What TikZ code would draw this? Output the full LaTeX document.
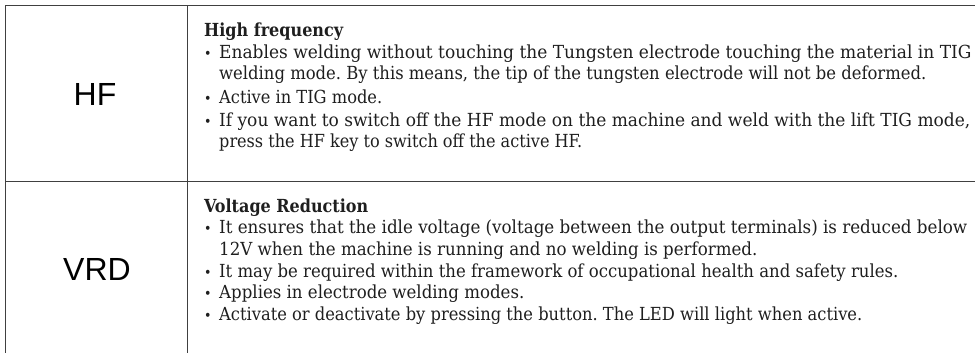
\documentclass[tikz,border=0pt]{standalone}
\usepackage{fontspec}
\setmainfont{DejaVu Serif Condensed}
\newfontfamily\labelfont{Liberation Sans}
\usepackage{graphicx}
\definecolor{txtc}{HTML}{1E1E1E}
\definecolor{rulec}{HTML}{404040}
\tikzset{
  txt/.style={anchor=base west, inner sep=0pt, text=txtc, font=\fontsize{18}{22}\selectfont\frenchspacing},
  head/.style={txt, font=\fontsize{18}{22}\selectfont\bfseries},
  bul/.style={anchor=base west, inner sep=0pt, text=txtc, font=\fontsize{14}{22}\selectfont},
  lbl/.style={anchor=base, inner sep=0pt, text=black, font=\labelfont\fontsize{32}{36}\selectfont},
  rule/.style={draw=rulec, line width=1pt}
}
\newcommand\tline[5]{\node[txt] (#1) at (#2,#3) {\resizebox{#4pt}{\height}{#5}};}
\newcommand\headline[5]{\node[head] (#1) at (#2,#3) {\resizebox{#4pt}{\height}{#5}};}
\newcommand\bline[2]{\node[bul] (#1) at (204,#2) {\textbullet};}
\begin{document}
\begin{tikzpicture}[x=1pt,y=-1pt]
\useasboundingbox (0,0) rectangle (975,353);
% table rules
\coordinate (tl) at (5,6);
\coordinate (tm) at (187,6);
\coordinate (tr) at (975,6);
\coordinate (ml) at (5,181);
\coordinate (mr) at (975,181);
\coordinate (bl) at (5,353);
\coordinate (bm) at (187,353);
\draw[rule] (tl) -- (tr);
\draw[rule] (ml) -- (mr);
\draw[rule] (tl) -- (bl);
\draw[rule] (tm) -- (bm);
% labels
\node[lbl] (hf) at (95,105) {HF};
\node[lbl] (vrd) at (97,280) {VRD};
% HF row
\headline{h1}{204}{37}{139}{High frequency}
\bline{b11}{59}
\tline{t11}{219}{59}{752}{Enables welding without touching the Tungsten electrode touching the material in TIG}
\tline{t12}{219}{80}{707}{welding mode. By this means, the tip of the tungsten electrode will not be deformed.}
\bline{b13}{103}
\tline{t13}{219}{103}{163}{Active in TIG mode.}
\bline{b14}{126}
\tline{t14}{219}{126}{751}{If you want to switch off the HF mode on the machine and weld with the lift TIG mode,}
\tline{t15}{219}{147}{363}{press the HF key to switch off the active HF.}
% VRD row
\headline{h2}{204}{212}{164}{Voltage Reduction}
\bline{b21}{233}
\tline{t21}{219}{233}{748}{It ensures that the idle voltage (voltage between the output terminals) is reduced below}
\tline{t22}{219}{255}{538}{12V when the machine is running and no welding is performed.}
\bline{b23}{277}
\tline{t23}{219}{277}{679}{It may be required within the framework of occupational health and safety rules.}
\bline{b24}{298}
\tline{t24}{219}{298}{305}{Applies in electrode welding modes.}
\bline{b25}{320}
\tline{t25}{219}{320}{643}{Activate or deactivate by pressing the button. The LED will light when active.}
\end{tikzpicture}
\end{document}
